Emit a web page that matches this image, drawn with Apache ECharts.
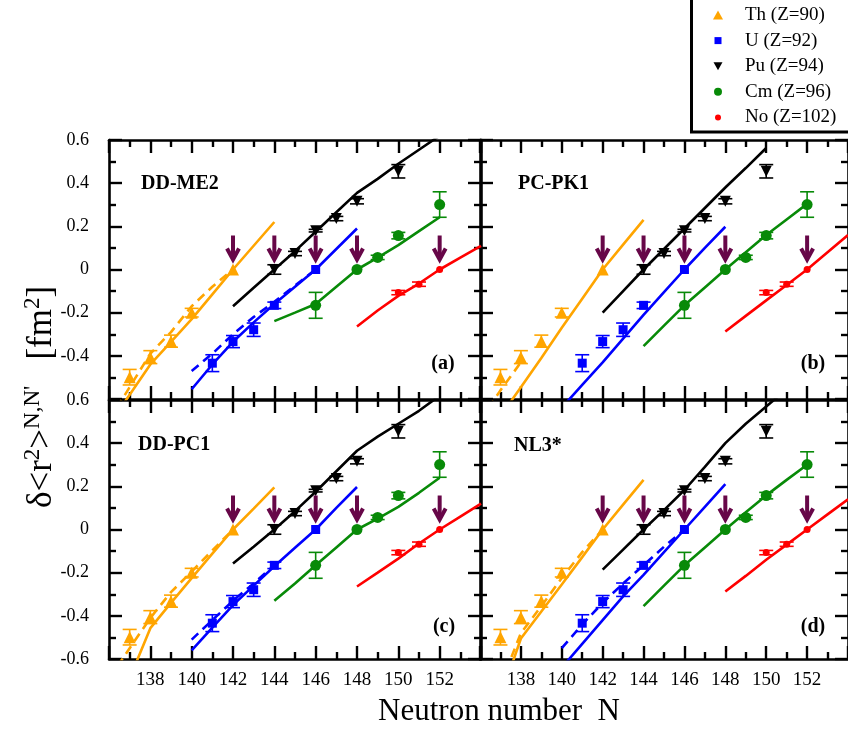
<!DOCTYPE html>
<html><head><meta charset="utf-8">
<script src="https://cdn.jsdelivr.net/npm/echarts@6/dist/echarts.min.js"></script>
<style>html,body{margin:0;padding:0;background:#fff}#c{width:848px;height:731px}</style>
</head><body><div id="c"></div>
<script>
// ---------- data ----------
const panelNames = ['DD-ME2', 'PC-PK1', 'DD-PC1', 'NL3*'];
const panelTags = ['(a)', '(b)', '(c)', '(d)'];
const seriesNames = ['Th (Z=90)', 'U (Z=92)', 'Pu (Z=94)', 'Cm (Z=96)', 'No (Z=102)'];

// experimental data: N, value, error
const thN = [137, 138, 139, 140, 142];
const thV = [-0.499, -0.406, -0.332, -0.200, 0];
const thE = [0.036, 0.030, 0.028, 0.020, 0];
const uN = [141, 142, 143, 144, 146];
const uV = [-0.434, -0.334, -0.279, -0.166, 0];
const uE = [0.039, 0.028, 0.031, 0.015, 0];
const puN = [144, 145, 146, 147, 148, 150];
const puV = [0, 0.074, 0.180, 0.236, 0.316, 0.455];
const puE = [0.022, 0.010, 0.006, 0.010, 0.012, 0.031];
const cmN = [146, 148, 149, 150, 152];
const cmV = [-0.166, 0, 0.056, 0.157, 0.301];
const cmE = [0.060, 0, 0.010, 0.015, 0.059];
const noN = [150, 151, 152];
const noV = [-0.107, -0.068, 0];
const noE = [0.010, 0.010, 0];

// reference (kink) nuclei marked by arrows
const arrowN = [142, 144, 146, 148, 152];
const arrowV = [0, 0, 0, 0, 0];

// theory: DD-ME2 (a)
const me2ThN = [136, 137, 138, 139, 140, 141, 142, 143, 144];
const me2Th = [-0.72, -0.58, -0.44, -0.335, -0.23, -0.115, 0, 0.11, 0.22];
const me2ThDN = [136, 137, 138, 139, 140, 141, 142];
const me2ThD = [-0.70, -0.545, -0.39, -0.29, -0.17, -0.08, 0];
const me2UN = [140, 141, 142, 143, 144, 145, 146, 147, 148];
const me2U = [-0.555, -0.44, -0.335, -0.245, -0.16, -0.08, 0, 0.095, 0.19];
const me2UDN = [140, 141, 142, 143, 144, 145, 146];
const me2UD = [-0.47, -0.39, -0.30, -0.22, -0.15, -0.075, 0];
const me2PuN = [142, 143, 144, 145, 146, 147, 148, 149, 150, 151, 152];
const me2Pu = [-0.17, -0.085, 0, 0.085, 0.175, 0.265, 0.355, 0.42, 0.49, 0.555, 0.62];
const me2CmN = [144, 145, 146, 147, 148, 149, 150, 151, 152];
const me2Cm = [-0.239, -0.2, -0.16, -0.08, 0, 0.055, 0.113, 0.178, 0.242];
const me2NoN = [148, 149, 150, 151, 152, 153, 154];
const me2No = [-0.264, -0.19, -0.122, -0.065, 0, 0.055, 0.11];

// theory: PC-PK1 (b)
const pkThN = [137, 138, 139, 140, 141, 142, 143, 144];
const pkTh = [-0.68, -0.545, -0.41, -0.27, -0.135, 0, 0.115, 0.23];
const pkThDN = [136, 137, 138];
const pkThD = [-0.70, -0.56, -0.43];
const pkUN = [140, 141, 142, 143, 144, 145, 146, 147, 148];
const pkU = [-0.64, -0.535, -0.43, -0.32, -0.21, -0.105, 0, 0.1, 0.198];
const pkPuN = [142, 143, 144, 145, 146, 147, 148, 149, 150];
const pkPu = [-0.2, -0.1, 0, 0.095, 0.19, 0.285, 0.38, 0.47, 0.563];
const pkCmN = [144, 145, 146, 147, 148, 149, 150, 151, 152];
const pkCm = [-0.355, -0.26, -0.166, -0.083, 0, 0.08, 0.16, 0.232, 0.304];
const pkNoN = [148, 149, 150, 151, 152, 153, 154];
const pkNo = [-0.287, -0.215, -0.143, -0.072, 0, 0.08, 0.16];

// theory: DD-PC1 (c)
const pcThN = [137, 138, 139, 140, 141, 142, 143, 144];
const pcTh = [-0.69, -0.457, -0.34, -0.225, -0.112, 0, 0.097, 0.195];
const pcThDN = [136, 137, 138, 139, 140, 141, 142];
const pcThD = [-0.69, -0.55, -0.41, -0.29, -0.195, -0.097, 0];
const pcUN = [140, 141, 142, 143, 144, 145, 146, 147, 148];
const pcU = [-0.56, -0.455, -0.35, -0.26, -0.17, -0.085, 0, 0.1, 0.197];
const pcUDN = [140, 141, 142, 143, 144];
const pcUD = [-0.51, -0.42, -0.33, -0.25, -0.165];
const pcPuN = [142, 143, 144, 145, 146, 147, 148, 149, 150, 151, 152];
const pcPu = [-0.158, -0.08, 0, 0.085, 0.175, 0.27, 0.365, 0.43, 0.49, 0.55, 0.62];
const pcCmN = [144, 145, 146, 147, 148, 149, 150, 151, 152];
const pcCm = [-0.33, -0.25, -0.166, -0.083, 0, 0.05, 0.105, 0.17, 0.24];
const pcNoN = [148, 149, 150, 151, 152, 153, 154];
const pcNo = [-0.264, -0.2, -0.135, -0.065, 0, 0.06, 0.12];

// theory: NL3* (d)
const nlThN = [137, 138, 139, 140, 141, 142, 143, 144];
const nlTh = [-0.78, -0.505, -0.38, -0.255, -0.128, 0, 0.115, 0.23];
const nlThDN = [137, 138, 139, 140, 141, 142];
const nlThD = [-0.72, -0.48, -0.355, -0.225, -0.105, 0];
const nlUN = [140, 141, 142, 143, 144, 145, 146, 147, 148];
const nlU = [-0.64, -0.53, -0.42, -0.31, -0.21, -0.105, 0, 0.105, 0.21];
const nlUDN = [140, 141, 142, 143, 144, 145, 146];
const nlUD = [-0.55, -0.44, -0.34, -0.25, -0.165, -0.08, 0];
const nlPuN = [142, 143, 144, 145, 146, 147, 148, 149, 150, 151];
const nlPu = [-0.186, -0.093, 0, 0.09, 0.183, 0.29, 0.4, 0.49, 0.57, 0.65];
const nlCmN = [144, 145, 146, 147, 148, 149, 150, 151, 152];
const nlCm = [-0.355, -0.26, -0.166, -0.083, 0, 0.08, 0.158, 0.23, 0.3];
const nlNoN = [148, 149, 150, 151, 152, 153, 154];
const nlNo = [-0.287, -0.215, -0.14, -0.07, 0, 0.07, 0.14];

// ---------- styling ----------
const FONT = "'Liberation Serif', 'Times New Roman', serif";
const C_TH = '#FFA500', C_U = '#0000FF', C_PU = '#000000', C_CM = '#088A08', C_NO = '#FF0000', C_ARROW = '#670748';

const theory = [
  {th: [me2ThN, me2Th], thD: [me2ThDN, me2ThD], u: [me2UN, me2U], uD: [me2UDN, me2UD], pu: [me2PuN, me2Pu], cm: [me2CmN, me2Cm], no: [me2NoN, me2No]},
  {th: [pkThN, pkTh], thD: [pkThDN, pkThD], u: [pkUN, pkU], uD: null, pu: [pkPuN, pkPu], cm: [pkCmN, pkCm], no: [pkNoN, pkNo]},
  {th: [pcThN, pcTh], thD: [pcThDN, pcThD], u: [pcUN, pcU], uD: [pcUDN, pcUD], pu: [pcPuN, pcPu], cm: [pcCmN, pcCm], no: [pcNoN, pcNo]},
  {th: [nlThN, nlTh], thD: [nlThDN, nlThD], u: [nlUN, nlU], uD: [nlUDN, nlUD], pu: [nlPuN, nlPu], cm: [nlCmN, nlCm], no: [nlNoN, nlNo]}
];

const grids = [
  {left: 109, top: 140, width: 372, height: 259},
  {left: 480, top: 140, width: 372, height: 259},
  {left: 109, top: 400, width: 372, height: 259},
  {left: 480, top: 400, width: 372, height: 259}
];

const tickW = 2.4;
function xAx(g, pos, showLabel) {
  return {type: 'value', gridIndex: g, position: pos, min: 136, max: 154, interval: 2,
    axisLine: {show: true, onZero: false, lineStyle: {color: '#000', width: 2.6}},
    axisTick: {show: true, inside: true, length: 13, lineStyle: {color: '#000', width: tickW}},
    minorTick: {show: true, splitNumber: 2, length: 7, lineStyle: {color: '#000', width: tickW}},
    splitLine: {show: false}, minorSplitLine: {show: false},
    axisLabel: {show: showLabel, fontFamily: FONT, fontSize: 19, color: '#000', margin: 12,
      showMinLabel: false, showMaxLabel: false}};
}
function yAx(g, pos, showLabel, showMin) {
  return {type: 'value', gridIndex: g, position: pos, min: -0.6, max: 0.6, interval: 0.2,
    axisLine: {show: true, onZero: false, lineStyle: {color: '#000', width: 2.6}},
    axisTick: {show: true, inside: true, length: 13, lineStyle: {color: '#000', width: tickW}},
    minorTick: {show: true, splitNumber: 2, length: 7, lineStyle: {color: '#000', width: tickW}},
    splitLine: {show: false}, minorSplitLine: {show: false},
    axisLabel: {show: showLabel, fontFamily: FONT, fontSize: 18, color: '#000', margin: 20,
      showMinLabel: showMin, showMaxLabel: true,
      formatter: v => (Math.abs(v) < 1e-9 ? '0' : (+v).toFixed(1))}};
}

const xAxis = [], yAxis = [];
for (let g = 0; g < 4; g++) {
  xAxis.push(xAx(g, 'bottom', g >= 2));
  xAxis.push(xAx(g, 'top', false));
  yAxis.push(yAx(g, 'left', g % 2 === 0, g >= 2));
  yAxis.push(yAx(g, 'right', false, false));
}

function lineS(g, pair, color, dashed) {
  return {type: 'line', xAxisIndex: 2 * g, yAxisIndex: 2 * g, silent: true, z: 2,
    data: pair[0].map((n, i) => [n, pair[1][i]]), showSymbol: false, symbol: 'none',
    clip: true, lineStyle: {color: color, width: 2.6, type: dashed ? [9, 6] : 'solid'}};
}
function errS(g, Ns, Vs, Es, color) {
  return {type: 'custom', xAxisIndex: 2 * g, yAxisIndex: 2 * g, z: 3, silent: true, clip: true,
    data: Ns.map((n, i) => [n, Vs[i], Es[i]]), encode: {x: 0, y: 1},
    renderItem: (params, api) => {
      const x = api.value(0), y = api.value(1), e = api.value(2);
      if (!e) return {type: 'group', children: []};
      const t = api.coord([x, y + e]), b = api.coord([x, y - e]), w = 7;
      const st = {stroke: color, lineWidth: 1.6};
      return {type: 'group', children: [
        {type: 'line', shape: {x1: t[0], y1: t[1], x2: b[0], y2: b[1]}, style: st},
        {type: 'line', shape: {x1: t[0] - w, y1: t[1], x2: t[0] + w, y2: t[1]}, style: st},
        {type: 'line', shape: {x1: b[0] - w, y1: b[1], x2: b[0] + w, y2: b[1]}, style: st}]};
    }};
}
function scatS(g, name, Ns, Vs, color, symbol, size, rot) {
  return {type: 'scatter', name: name, xAxisIndex: 2 * g, yAxisIndex: 2 * g, z: 4,
    data: Ns.map((n, i) => [n, Vs[i]]), symbol: symbol, symbolSize: size, symbolRotate: rot || 0,
    itemStyle: {color: color, opacity: 1}};
}
function arrowS(g) {
  return {type: 'custom', xAxisIndex: 2 * g, yAxisIndex: 2 * g, z: 5, silent: true,
    data: arrowN.map((n, i) => [n, arrowV[i]]), encode: {x: 0, y: 1},
    renderItem: (params, api) => {
      const p = api.coord([api.value(0), api.value(1)]);
      const x = p[0], tip = p[1] - 10;
      return {type: 'group', children: [
        {type: 'line', shape: {x1: x, y1: tip - 24, x2: x, y2: tip - 2}, style: {stroke: C_ARROW, lineWidth: 4}},
        {type: 'polyline', shape: {points: [[x - 6, tip - 11], [x, tip], [x + 6, tip - 11]]},
          style: {stroke: C_ARROW, lineWidth: 4, fill: null, lineJoin: 'miter'}}]};
    }};
}

const series = [];
for (let g = 0; g < 4; g++) {
  const T = theory[g];
  series.push(lineS(g, T.th, C_TH, false));
  if (T.thD) series.push(lineS(g, T.thD, C_TH, true));
  series.push(lineS(g, T.u, C_U, false));
  if (T.uD) series.push(lineS(g, T.uD, C_U, true));
  series.push(lineS(g, T.pu, C_PU, false));
  series.push(lineS(g, T.cm, C_CM, false));
  series.push(lineS(g, T.no, C_NO, false));
  series.push(errS(g, thN, thV, thE, C_TH));
  series.push(errS(g, uN, uV, uE, C_U));
  series.push(errS(g, puN, puV, puE, C_PU));
  series.push(errS(g, cmN, cmV, cmE, C_CM));
  series.push(errS(g, noN, noV, noE, C_NO));
  series.push(scatS(g, seriesNames[0], thN, thV, C_TH, 'triangle', 12));
  series.push(scatS(g, seriesNames[1], uN, uV, C_U, 'rect', 9));
  series.push(scatS(g, seriesNames[2], puN, puV, C_PU, 'triangle', 11, 180));
  series.push(scatS(g, seriesNames[3], cmN, cmV, C_CM, 'circle', 11));
  series.push(scatS(g, seriesNames[4], noN, noV, C_NO, 'circle', 7));
  series.push(arrowS(g));
}

const panelPos = [[141, 184], [518, 184], [138, 445], [514, 446]];
const tagPos = [[443, 364], [813, 364], [444, 627], [813, 627]];
const graphic = [];
for (let g = 0; g < 4; g++) {
  graphic.push({type: 'text', x: panelPos[g][0], y: panelPos[g][1], z: 10,
    style: {text: panelNames[g], font: 'bold 20px ' + FONT, fill: '#000', align: 'left', verticalAlign: 'middle'}});
  graphic.push({type: 'text', x: tagPos[g][0], y: tagPos[g][1], z: 10,
    style: {text: panelTags[g], font: 'bold 20px ' + FONT, fill: '#000', align: 'center', verticalAlign: 'middle'}});
}
graphic.push({type: 'text', x: 499, y: 712, style: {text: 'Neutron number  N', font: '31px ' + FONT, fill: '#000', align: 'center', verticalAlign: 'middle'}});
graphic.push({type: 'text', x: 40, y: 397, rotation: Math.PI / 2, style: {
  text: '{m|δ<r}{s|2}{m|>}{s|N,N\'}{m|   [fm}{s|2}{m|]}',
  rich: {m: {fontFamily: FONT, fontSize: 35, lineHeight: 38, verticalAlign: 'bottom', fill: '#000'},
         s: {fontFamily: FONT, fontSize: 23, lineHeight: 23, verticalAlign: 'top', fill: '#000'}},
  align: 'center', verticalAlign: 'middle', fill: '#000'}});
graphic.push({type: 'rect', shape: {x: 691.5, y: -10, width: 200, height: 142}, z: 10,
  style: {fill: 'rgba(255,255,255,0)', stroke: '#000', lineWidth: 3}});

const legendIcons = [
  'path://M0,0M12,12M6,1.5L11,10.5L1,10.5Z',
  'path://M0,0M12,12M2.5,2.5L9.5,2.5L9.5,9.5L2.5,9.5Z',
  'path://M0,0M12,12M1.5,2L10.5,2L6,10Z',
  'path://M0,0M12,12M2,6A4,4,0,1,1,10,6A4,4,0,1,1,2,6Z',
  'path://M0,0M12,12M3,6A3,3,0,1,1,9,6A3,3,0,1,1,3,6Z'
];

const option = {
  animation: false,
  backgroundColor: '#fff',
  grid: grids,
  xAxis: xAxis,
  yAxis: yAxis,
  legend: {orient: 'vertical', left: 712, top: 5, padding: 0, itemWidth: 44, itemHeight: 12, itemGap: 5.6,
    selectedMode: false,
    textStyle: {fontFamily: FONT, fontSize: 19, color: '#000', lineHeight: 20},
    data: seriesNames.map((n, i) => ({name: n, icon: legendIcons[i]}))},
  graphic: graphic,
  series: series
};
const chart = echarts.init(document.getElementById('c'), null, {renderer: 'canvas'});
chart.setOption(option);
</script></body></html>
